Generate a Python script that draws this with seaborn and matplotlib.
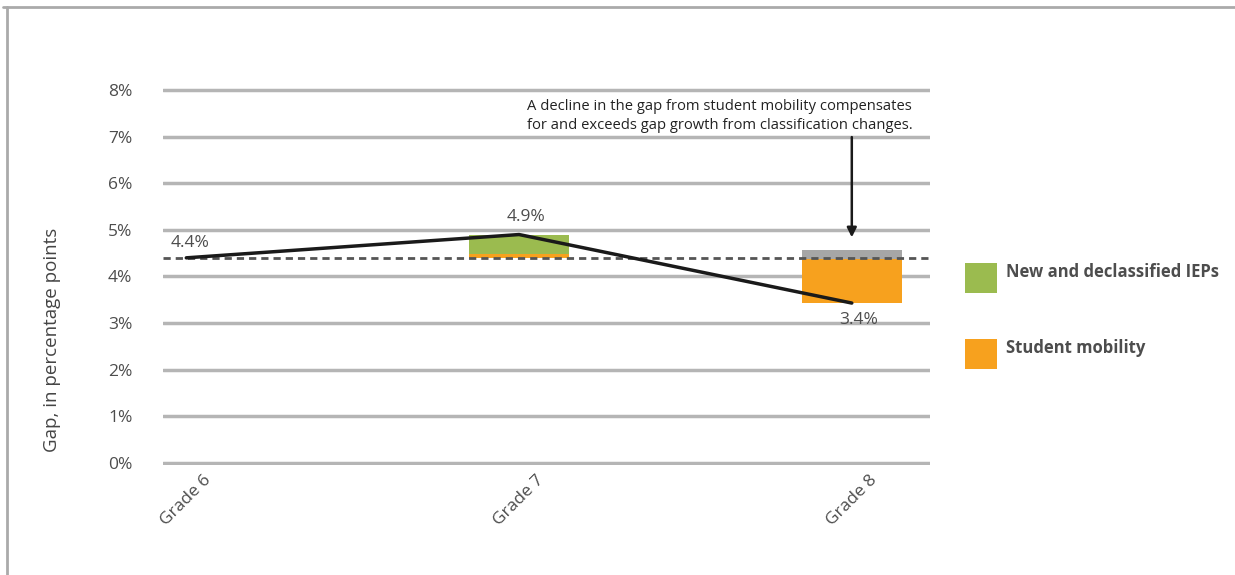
import numpy as np
import pandas as pd
import matplotlib
matplotlib.use("Agg")
import matplotlib.pyplot as plt
from matplotlib.lines import Line2D
from matplotlib.patches import Rectangle
import seaborn as sns

# ---- data ----
grades = ["Grade 6", "Grade 7", "Grade 8"]
gap = [4.4, 4.9, 3.43]
gap_labels = ["4.4%", "4.9%", "3.4%"]
baseline = 4.4
mobility_lo = [np.nan, 4.39, 3.43]
mobility_hi = [np.nan, 4.49, 4.38]
iep_lo = [np.nan, 4.49, np.nan]
iep_hi = [np.nan, 4.88, np.nan]
overlap_lo = [np.nan, np.nan, 4.38]
overlap_hi = [np.nan, np.nan, 4.57]
yticks = [0, 1, 2, 3, 4, 5, 6, 7, 8]
ytick_labels = ["0%", "1%", "2%", "3%", "4%", "5%", "6%", "7%", "8%"]
legend_labels = ["New and declassified IEPs", "Student mobility"]
annotation = ("A decline in the gap from student mobility compensates\n"
              "for and exceeds gap growth from classification changes.")

GREEN = "#9bbb4f"
ORANGE = "#f7a11e"
GRAY_BAR = "#a6a6a6"
TXT = "#4d4d4d"
GRID = "#b5b5b5"

sns.set_theme(style="white")
plt.rcParams['font.family'] = ['Open Sans', 'DejaVu Sans']

fig = plt.figure(figsize=(12.35, 5.75), dpi=100)
ax = fig.add_axes([163/1235, 0.1908, (930-163)/1235, 0.8475-0.1908])

x = np.arange(len(grades))
W = 0.30

# gridlines
for yv in yticks:
    ax.axhline(yv, color=GRID, lw=2.5, zorder=0)

# dashed baseline
ax.axhline(baseline, color="#555555", lw=2, ls=(0, (2.6, 1.8)), zorder=3)

# bars
mlo = np.array(mobility_lo); mhi = np.array(mobility_hi)
ilo = np.array(iep_lo); ihi = np.array(iep_hi)
olo = np.array(overlap_lo); ohi = np.array(overlap_hi)
ax.bar(x, mhi - mlo, bottom=mlo, width=W, color=ORANGE, linewidth=0, zorder=2)
ax.bar(x, ihi - ilo, bottom=ilo, width=W, color=GREEN, linewidth=0, zorder=2)
ax.bar(x, ohi - olo, bottom=olo, width=W, color=GRAY_BAR, linewidth=0, zorder=2)

# line
df = pd.DataFrame({"x": x, "gap": gap})
sns.lineplot(data=df, x="x", y="gap", color="#1a1a1a", lw=2.5, ax=ax, zorder=4)

# value labels
ax.text(x[0] + 0.01, gap[0] + 0.15, gap_labels[0], ha="center", va="bottom", fontsize=12.5, color=TXT)
ax.text(x[1] + 0.02, gap[1] + 0.2, gap_labels[1], ha="center", va="bottom", fontsize=12.5, color=TXT)
ax.text(x[2] + 0.02, gap[2] - 0.2, gap_labels[2], ha="center", va="top", fontsize=12.5, color=TXT)

# annotation
ax.text(1.025, 7.44, annotation, ha="left", va="center", fontsize=10.6, color="#222222", linespacing=1.3)
ax.annotate("", xy=(x[2], 4.78), xytext=(x[2], 7.05),
            arrowprops=dict(arrowstyle="-|>", color="#1a1a1a", lw=1.8, mutation_scale=14))

ax.set_xlim(-0.07, 2.235)
ax.set_ylim(-0.05, 8.05)
ax.set_yticks(yticks)
ax.set_yticklabels(ytick_labels, fontsize=12.5, color=TXT)
ax.set_xticks(x)
ax.set_xticklabels(grades, rotation=45, ha="center", fontsize=12.5, color=TXT)
ax.tick_params(axis="y", length=0, pad=22)
ax.tick_params(axis="x", length=0, pad=5)
ax.set_xlabel("")
ax.set_ylabel("Gap, in percentage points", fontsize=13.5, color="#444444")
ax.yaxis.set_label_coords(-0.133, 0.332)
sns.despine(ax=ax, left=True, bottom=True, top=True, right=True)

# legend (manual)
for i, (lab, col) in enumerate(zip(legend_labels, [GREEN, ORANGE])):
    y0 = 1 - 293/575 if i == 0 else 1 - 369/575
    fig.patches.append(Rectangle((965/1235, y0), 32/1235, 30/575, transform=fig.transFigure,
                                 facecolor=col, edgecolor="none"))
    ty = 1 - 272/575 if i == 0 else 1 - 348/575
    fig.text(1006/1235, ty, lab, ha="left", va="center", fontsize=12, fontweight="bold", color=TXT)

# outer frame
fig.add_artist(Line2D([3/1235, 1], [1 - 7/575, 1 - 7/575], transform=fig.transFigure, color="#aaaaaa", lw=2))
fig.add_artist(Line2D([7/1235, 7/1235], [0, 1 - 7/575], transform=fig.transFigure, color="#aaaaaa", lw=2))

fig.savefig("out.png", dpi=100)
